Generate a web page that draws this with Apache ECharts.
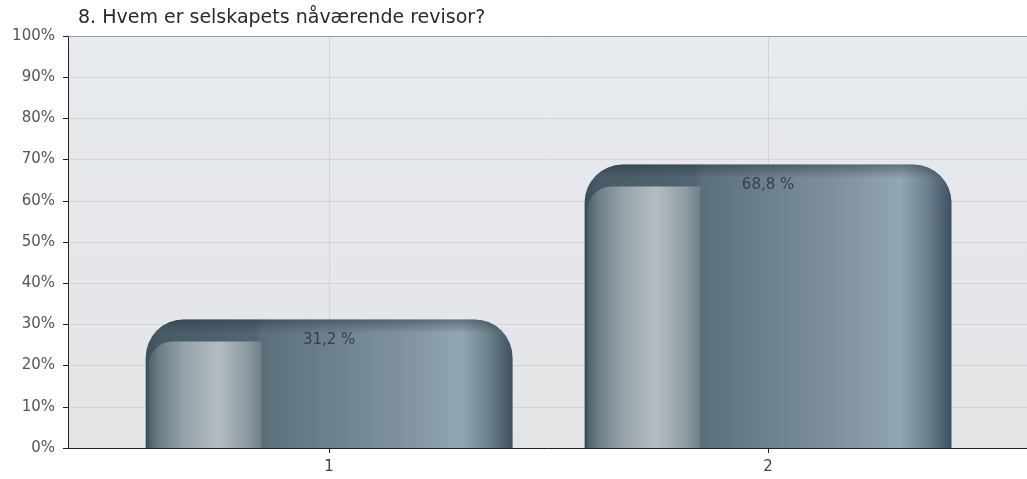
<!DOCTYPE html>
<html>
<head>
<meta charset="utf-8">
<title>Revisor</title>
<script src="https://cdn.jsdelivr.net/npm/echarts@6/dist/echarts.min.js"></script>
<style>
  html, body { margin: 0; padding: 0; background: #ffffff; }
  #chart { width: 1027px; height: 479px; }
</style>
</head>
<body>
<div id="chart"></div>
<script>
// Survey question and answer shares (percent of respondents)
const titleText = '8. Hvem er selskapets nåværende revisor?';
const categories = ['1', '2'];
const categoryPositions = [1, 2];
const shares = [31.2, 68.8];

const FONT = '"DejaVu Sans", "Liberation Sans", Arial, sans-serif';
const BAR_UNITS = 0.836;   // bar width in x-axis units

function fmtShare(v) {
  return v.toFixed(1).replace('.', ',') + ' %';
}

function lin(x2, y2, stops) {
  return new echarts.graphic.LinearGradient(0, 0, x2, y2, stops.map(s => ({ offset: s[0], color: s[1] })));
}

// Body of the bar: dark slate on the left, light band towards the right, dark right rim
const bodyFill = lin(1, 0, [
  [0.00, '#3b4f5b'], [0.04, '#485c68'], [0.30, '#516672'],
  [0.315, '#5b6f7a'], [0.50, '#6d818c'], [0.72, '#8194a0'],
  [0.86, '#93a7b3'], [0.93, '#6f838f'], [1.00, '#3d5160']
]);
// Glossy highlight panel on the left part of the bar
const panelFill = lin(1, 0, [
  [0.00, '#4d606b'], [0.10, '#6e7f89'], [0.32, '#96a3aa'],
  [0.62, '#b5bdc1'], [0.88, '#8c9aa1'], [1.00, '#6f808a']
]);

function renderBar(params, api) {
  const xv = api.value(0);
  const yv = api.value(1);
  const top = api.coord([xv, yv]);
  const base = api.coord([xv, 0]);
  const w = api.size([BAR_UNITS, 0])[0];
  const x0 = top[0] - w / 2;
  const y0 = top[1];
  const h = base[1] - y0;
  const r = Math.min(38, h, w / 2);
  const capH = Math.min(22, h);
  const panelW = w * 0.315;
  // darker rim along the top edge, fading out within the first pixels
  const fade = Math.min(1, 14 / h);
  const rimFill = lin(0, 1, [
    [0, 'rgba(35,50,60,0.45)'], [fade, 'rgba(35,50,60,0)'], [1, 'rgba(35,50,60,0)']
  ]);
  const outline = { x: x0, y: y0, width: w, height: h, r: [r, r, 0, 0] };
  return {
    type: 'group',
    children: [
      { type: 'rect', shape: outline, style: { fill: bodyFill } },
      { type: 'rect', shape: { x: x0 + 3, y: y0 + capH, width: panelW - 3, height: h - capH, r: [24, 0, 0, 0] }, style: { fill: panelFill } },
      { type: 'rect', shape: outline, style: { fill: rimFill } },
      {
        type: 'text',
        style: {
          text: fmtShare(yv), x: top[0], y: y0 + 21,
          align: 'center', verticalAlign: 'middle',
          font: '15px ' + FONT, fill: '#34414a'
        }
      }
    ]
  };
}

const chart = echarts.init(document.getElementById('chart'), null, { renderer: 'canvas' });

chart.setOption({
  backgroundColor: '#ffffff',
  animation: false,
  title: {
    text: titleText,
    left: 73,
    top: 4,
    textStyle: { fontFamily: FONT, fontSize: 19, fontWeight: 'normal', color: '#2a2a2a' }
  },
  grid: {
    left: 68, right: 0, top: 36, bottom: 31,
    show: true,
    borderWidth: 0,
    backgroundColor: lin(0, 1, [[0, '#e7eaee'], [1, '#e3e4e6']])
  },
  xAxis: [
    {
      type: 'value',
      min: 0.405,
      max: 2.59,
      axisLine: { show: true, lineStyle: { color: '#222222', width: 1 } },
      axisTick: { show: true, length: 5, customValues: categoryPositions, lineStyle: { color: '#222222' } },
      axisLabel: {
        customValues: categoryPositions,
        formatter: v => categories[categoryPositions.indexOf(v)],
        color: '#444444', fontFamily: FONT, fontSize: 15, margin: 12
      },
      splitLine: { show: true, lineStyle: { color: '#d2d4d7' } }
    },
    {
      type: 'value',
      position: 'top',
      min: 0.405,
      max: 2.59,
      axisLine: { show: true, lineStyle: { color: '#9a9a9a', width: 1 } },
      axisTick: { show: false },
      axisLabel: { show: false },
      splitLine: { show: false }
    }
  ],
  yAxis: {
    type: 'value',
    min: 0,
    max: 100,
    interval: 10,
    axisLine: { show: true, lineStyle: { color: '#222222', width: 1 } },
    axisTick: { show: true, length: 5, lineStyle: { color: '#222222' } },
    axisLabel: { formatter: '{value}%', color: '#555555', fontFamily: FONT, fontSize: 15, margin: 13 },
    splitLine: { show: true, lineStyle: { color: '#d2d4d7' } }
  },
  series: [{
    type: 'custom',
    xAxisIndex: 0,
    renderItem: renderBar,
    data: shares.map((v, i) => [categoryPositions[i], v]),
    z: 3
  }]
});
</script>
</body>
</html>
